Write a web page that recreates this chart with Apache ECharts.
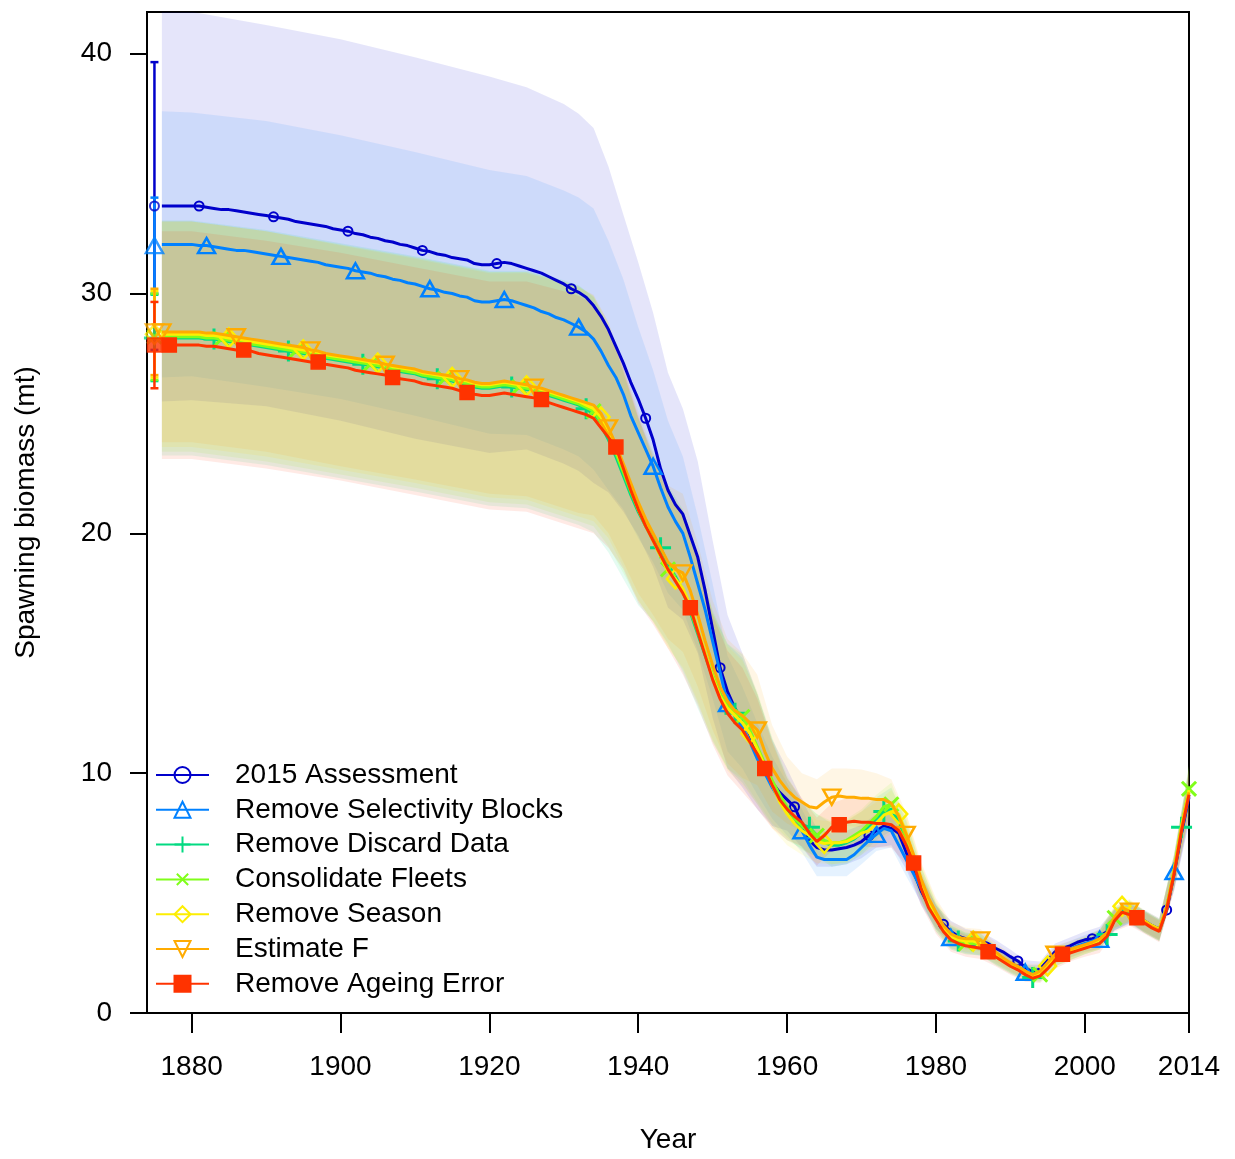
<!DOCTYPE html>
<html>
<head>
<meta charset="utf-8">
<title>Spawning biomass – model comparison</title>
<script src="https://cdn.jsdelivr.net/npm/echarts@6/dist/echarts.min.js"></script>
<style>
  html, body { margin: 0; padding: 0; background: #fff; }
  #chart { width: 1235px; height: 1159px; }
</style>
</head>
<body>
<div id="chart"></div>
<script>
// ---- data -------------------------------------------------------------
const START_YEAR = 1876;          // first year of the annual series
const VIRGIN_YEAR = 1875;         // unfished (virgin) estimate plotted here

const SERIES_NAMES = [
  '2015 Assessment',
  'Remove Selectivity Blocks',
  'Remove Discard Data',
  'Consolidate Fleets',
  'Remove Season',
  'Estimate F',
  'Remove Ageing Error'
];

// Spawning biomass (mt), one value per year from 1876 to 2014
const ASSESS_2015 = [
  33.65, 33.65, 33.65, 33.65,
  33.65, 33.65, 33.6, 33.55, 33.5, 33.5, 33.45, 33.4, 33.35, 33.3,
  33.25, 33.2, 33.15, 33.1, 33.0, 32.95, 32.9, 32.85, 32.8, 32.7,
  32.65, 32.6, 32.5, 32.45, 32.35, 32.3, 32.2, 32.15, 32.05, 32.0,
  31.9, 31.8, 31.75, 31.65, 31.6, 31.5, 31.45, 31.4, 31.25, 31.2,
  31.2, 31.25, 31.3, 31.25, 31.15, 31.05, 30.95, 30.85, 30.7, 30.55,
  30.4, 30.2, 30.05, 29.85, 29.5, 29.05, 28.5, 27.8, 27.1, 26.3,
  25.6, 24.8, 23.9, 22.7, 21.8, 21.2, 20.8, 19.9, 19.0, 17.6,
  16.0, 14.4, 13.4, 12.7, 12.2, 11.6, 10.9, 10.2, 9.6, 9.2,
  8.9, 8.6, 7.9, 7.2, 6.9, 6.8, 6.8, 6.85, 6.9, 7.0,
  7.15, 7.4, 7.6, 7.8, 7.7, 7.5, 6.7, 5.9, 5.1, 4.5,
  4.0, 3.7, 3.4, 3.2, 3.1, 3.05, 3.0, 2.9, 2.7, 2.55,
  2.35, 2.17, 1.9, 1.7, 1.85, 2.2, 2.55, 2.7, 2.8, 2.95,
  3.05, 3.1, 3.2, 3.4, 3.9, 4.3, 4.2, 4.0, 3.85, 3.65,
  3.5, 4.3, 5.8, 7.5, 9.0
];
const NO_SEL_BLOCKS = [
  32.05, 32.05, 32.05, 32.05,
  32.05, 32.0, 32.0, 31.95, 31.9, 31.85, 31.8, 31.8, 31.75, 31.7,
  31.65, 31.6, 31.55, 31.5, 31.45, 31.4, 31.35, 31.3, 31.2, 31.15,
  31.1, 31.05, 30.95, 30.9, 30.85, 30.75, 30.7, 30.6, 30.55, 30.45,
  30.4, 30.3, 30.2, 30.15, 30.05, 30.0, 29.9, 29.85, 29.7, 29.65,
  29.65, 29.7, 29.75, 29.7, 29.6, 29.5, 29.4, 29.25, 29.15, 29.0,
  28.9, 28.75, 28.6, 28.4, 28.1, 27.6, 27.0, 26.5, 25.8, 24.9,
  24.2, 23.5, 22.8, 21.9, 21.1, 20.5, 20.0, 19.0, 17.9, 16.8,
  15.5, 14.2, 12.9, 12.4, 11.9, 11.3, 10.6, 10.0, 9.4, 8.9,
  8.5, 8.1, 7.6, 7.0, 6.5, 6.4, 6.4, 6.4, 6.4, 6.6,
  6.9, 7.2, 7.45, 7.7, 7.6, 7.0, 6.4, 5.8, 5.2, 4.5,
  4.0, 3.5, 3.15, 3.0, 2.9, 2.85, 2.8, 2.6, 2.4, 2.2,
  2.0, 1.85, 1.7, 1.55, 1.7, 2.05, 2.4, 2.55, 2.65, 2.8,
  2.9, 3.0, 3.07, 3.3, 3.9, 4.3, 4.15, 3.95, 3.8, 3.6,
  3.45, 4.3, 5.9, 7.6, 9.1
];
const NO_DISCARD = [
  28.15, 28.15, 28.15, 28.15,
  28.15, 28.15, 28.1, 28.1, 28.05, 28.0, 27.95, 27.9, 27.85, 27.8,
  27.75, 27.7, 27.65, 27.6, 27.55, 27.5, 27.45, 27.4, 27.3, 27.25,
  27.2, 27.15, 27.1, 27.05, 27.0, 26.95, 26.9, 26.8, 26.75, 26.7,
  26.65, 26.55, 26.5, 26.45, 26.4, 26.35, 26.25, 26.2, 26.1, 26.05,
  26.05, 26.1, 26.15, 26.1, 26.05, 26.0, 25.95, 25.85, 25.75, 25.65,
  25.55, 25.45, 25.35, 25.2, 24.95, 24.5, 23.9, 23.2, 22.4, 21.6,
  20.9, 20.3, 19.85, 19.4, 18.7, 18.2, 17.6, 16.7, 15.8, 14.9,
  14.0, 13.3, 12.8, 12.5, 12.2, 11.7, 11.0, 10.3, 9.6, 9.0,
  8.5, 8.1, 7.85, 7.75, 7.4, 7.1, 7.0, 7.0, 7.1, 7.25,
  7.5, 7.8, 8.1, 8.4, 8.5, 8.0, 7.2, 6.3, 5.4, 4.6,
  4.0, 3.5, 3.15, 3.0, 2.9, 2.9, 2.85, 2.6, 2.4, 2.2,
  2.0, 1.85, 1.65, 1.48, 1.6, 1.95, 2.3, 2.45, 2.55, 2.7,
  2.8, 2.95, 3.05, 3.27, 3.9, 4.35, 4.2, 3.95, 3.8, 3.6,
  3.45, 4.4, 5.9, 7.75, 9.3
];
const ONE_FLEET = [
  28.2, 28.2, 28.2, 28.2,
  28.2, 28.2, 28.15, 28.15, 28.1, 28.05, 28.0, 27.95, 27.9, 27.85,
  27.8, 27.75, 27.7, 27.65, 27.6, 27.55, 27.5, 27.45, 27.35, 27.3,
  27.25, 27.2, 27.15, 27.1, 27.05, 27.0, 26.95, 26.85, 26.8, 26.75,
  26.7, 26.6, 26.55, 26.5, 26.45, 26.4, 26.3, 26.25, 26.15, 26.1,
  26.1, 26.15, 26.2, 26.15, 26.1, 26.05, 26.0, 25.9, 25.8, 25.7,
  25.6, 25.5, 25.4, 25.25, 25.1, 24.65, 24.05, 23.35, 22.55, 21.75,
  21.0, 20.3, 19.7, 19.05, 18.5, 18.1, 17.6, 16.8, 15.9, 15.0,
  14.1, 13.3, 12.8, 12.5, 12.35, 11.8, 11.1, 10.4, 9.7, 9.1,
  8.6, 8.1, 7.8, 7.5, 7.4, 7.2, 7.1, 7.1, 7.2, 7.4,
  7.6, 7.9, 8.2, 8.6, 8.7, 8.2, 7.3, 6.4, 5.4, 4.6,
  4.0, 3.5, 3.15, 3.0, 2.9, 2.9, 2.85, 2.65, 2.4, 2.2,
  2.0, 1.85, 1.65, 1.5, 1.6, 1.95, 2.3, 2.45, 2.55, 2.7,
  2.8, 2.9, 3.05, 3.3, 3.97, 4.4, 4.25, 4.0, 3.8, 3.6,
  3.45, 4.4, 5.95, 7.8, 9.35
];
const NO_SEASON = [
  28.3, 28.3, 28.3, 28.3,
  28.3, 28.3, 28.25, 28.25, 28.2, 28.15, 28.1, 28.05, 28.0, 27.95,
  27.9, 27.85, 27.8, 27.75, 27.7, 27.65, 27.6, 27.55, 27.45, 27.4,
  27.35, 27.3, 27.25, 27.2, 27.15, 27.1, 27.05, 26.95, 26.9, 26.85,
  26.8, 26.7, 26.65, 26.6, 26.55, 26.5, 26.4, 26.35, 26.25, 26.2,
  26.2, 26.25, 26.3, 26.25, 26.2, 26.15, 26.1, 26.0, 25.9, 25.8,
  25.7, 25.6, 25.5, 25.35, 25.2, 24.85, 24.3, 23.5, 22.7, 21.85,
  21.0, 20.35, 19.7, 19.05, 18.4, 18.1, 17.7, 17.0, 16.0, 15.0,
  14.0, 13.2, 12.7, 12.4, 12.1, 11.65, 11.0, 10.3, 9.5, 8.8,
  8.3, 7.9, 7.6, 7.4, 7.15, 7.07, 7.1, 7.1, 7.15, 7.3,
  7.5, 7.6, 7.9, 8.25, 8.4, 8.3, 7.5, 6.5, 5.5, 4.7,
  4.1, 3.55, 3.2, 3.05, 3.0, 3.0, 2.9, 2.7, 2.45, 2.25,
  2.05, 1.9, 1.7, 1.55, 1.65, 1.96, 2.3, 2.45, 2.55, 2.7,
  2.8, 2.9, 3.05, 3.3, 4.0, 4.45, 4.3, 4.05, 3.85, 3.65,
  3.5, 4.4, 5.95, 7.8, 9.3
];
const EST_F = [
  28.4, 28.4, 28.4, 28.4,
  28.4, 28.4, 28.35, 28.35, 28.3, 28.25, 28.2, 28.15, 28.1, 28.05,
  28.0, 27.95, 27.9, 27.85, 27.8, 27.75, 27.65, 27.6, 27.5, 27.45,
  27.4, 27.35, 27.3, 27.25, 27.2, 27.15, 27.05, 27.0, 26.95, 26.9,
  26.85, 26.75, 26.7, 26.65, 26.6, 26.55, 26.45, 26.4, 26.3, 26.25,
  26.25, 26.3, 26.35, 26.3, 26.25, 26.2, 26.1, 26.05, 25.95, 25.85,
  25.75, 25.65, 25.55, 25.45, 25.35, 25.0, 24.4, 23.7, 22.9, 22.1,
  21.3, 20.6, 20.0, 19.4, 18.8, 18.5, 18.35, 17.6, 16.6, 15.5,
  14.5, 13.6, 13.0, 12.6, 12.4, 12.1, 11.8, 10.9, 10.2, 9.7,
  9.3, 9.0, 8.8, 8.6, 8.55, 8.8, 9.0, 9.05, 9.0, 9.0,
  8.95, 8.95, 8.9, 8.9, 8.75, 8.2, 7.45, 6.6, 5.6, 4.8,
  4.2, 3.65, 3.3, 3.15, 3.1, 3.1, 3.05, 2.8, 2.55, 2.3,
  2.1, 1.95, 1.75, 1.6, 1.75, 2.1, 2.45, 2.55, 2.65, 2.75,
  2.85, 2.95, 3.1, 3.35, 4.0, 4.4, 4.25, 4.0, 3.8, 3.6,
  3.45, 4.4, 5.9, 7.7, 9.2
];
const NO_AGE_ERR = [
  27.85, 27.85, 27.85, 27.85,
  27.85, 27.85, 27.8, 27.8, 27.75, 27.7, 27.65, 27.65, 27.6, 27.5,
  27.45, 27.4, 27.35, 27.3, 27.25, 27.2, 27.15, 27.15, 27.05, 27.0,
  26.95, 26.9, 26.8, 26.75, 26.7, 26.65, 26.6, 26.5, 26.45, 26.4,
  26.35, 26.25, 26.2, 26.15, 26.1, 26.05, 25.95, 25.87, 25.8, 25.75,
  25.75, 25.8, 25.85, 25.8, 25.75, 25.7, 25.65, 25.58, 25.45, 25.35,
  25.25, 25.15, 25.05, 24.95, 24.8, 24.4, 24.0, 23.6, 22.7, 21.8,
  21.0, 20.3, 19.7, 19.1, 18.5, 18.0, 17.5, 16.9, 15.9, 14.9,
  13.9, 13.1, 12.5, 12.1, 11.8, 11.3, 10.8, 10.2, 9.5, 8.9,
  8.5, 8.2, 7.95, 7.5, 7.15, 7.4, 7.75, 7.85, 7.95, 8.0,
  7.95, 7.95, 7.9, 7.9, 7.85, 7.6, 7.0, 6.25, 5.2, 4.4,
  3.9, 3.4, 3.05, 2.9, 2.8, 2.75, 2.7, 2.55, 2.35, 2.15,
  1.95, 1.8, 1.6, 1.45, 1.55, 1.85, 2.2, 2.45, 2.5, 2.6,
  2.7, 2.8, 2.9, 3.2, 3.85, 4.2, 4.1, 3.97, 3.75, 3.55,
  3.4, 4.3, 5.8, 7.6, 9.1
];

// Unfished spawning biomass with its 95% interval
const VIRGIN    = [33.65, 32.0, 28.15, 28.2, 28.3, 28.4, 27.85];
const VIRGIN_LO = [27.65, 30.0, 26.35, 26.4, 26.5, 26.6, 26.05];
const VIRGIN_HI = [39.65, 34.0, 29.95, 30.0, 30.1, 30.2, 29.65];

// Half-width of the 95% interval around each model, at these years
const BAND_YEARS = [1876, 1880, 1890, 1900, 1910, 1920, 1925, 1930,
  1932, 1934, 1936, 1938, 1940, 1942, 1944, 1946, 1948, 1950, 1952, 1954,
  1956, 1958, 1960, 1962, 1964, 1966, 1968, 1970, 1972, 1974, 1976, 1978,
  1980, 1982, 1984, 1986, 1988, 1990, 1992, 1994, 1996, 1998, 2000, 2002,
  2004, 2006, 2008, 2010, 2012, 2014];
const CI_ASSESS_2015 = [8.15, 8.1, 7.95, 7.95, 7.95, 7.85, 7.55, 7.5,
  7.45, 7.4, 6.8, 6.2, 5.7, 5.3, 4.9, 4.4, 4.0, 3.7, 3.2, 2.8,
  2.4, 1.8, 1.3, 1.0, 0.8, 0.7, 0.7, 0.7, 0.7, 0.7, 0.7, 0.6,
  0.5, 0.45, 0.4, 0.4, 0.35, 0.3, 0.3, 0.3, 0.35, 0.35, 0.35, 0.4,
  0.45, 0.45, 0.45, 0.45, 0.7, 1.1];
const CI_NO_SEL_BLOCKS = [5.55, 5.5, 5.55, 5.5, 5.5, 5.5, 5.4, 5.4,
  5.4, 5.45, 5.2, 4.8, 4.4, 4.0, 3.6, 3.2, 2.8, 2.4, 2.0, 1.7,
  1.5, 1.3, 1.1, 0.9, 0.8, 0.7, 0.7, 0.7, 0.7, 0.7, 0.7, 0.6,
  0.5, 0.45, 0.4, 0.4, 0.35, 0.3, 0.3, 0.3, 0.35, 0.35, 0.35, 0.4,
  0.45, 0.45, 0.45, 0.45, 0.7, 1.1];
const CI_NO_DISCARD = [4.9, 4.9, 4.9, 4.9, 4.9, 4.9, 4.95, 5.0,
  5.0, 4.9, 4.7, 4.3, 3.9, 3.5, 3.3, 3.4, 3.1, 2.7, 2.6, 2.6,
  2.3, 1.8, 1.3, 1.0, 0.9, 0.9, 0.9, 0.9, 0.9, 0.9, 0.8, 0.7,
  0.6, 0.5, 0.45, 0.45, 0.4, 0.35, 0.3, 0.3, 0.35, 0.35, 0.35, 0.4,
  0.45, 0.45, 0.45, 0.45, 0.7, 1.0];
const CI_ONE_FLEET = [4.8, 4.8, 4.8, 4.8, 4.8, 4.8, 4.85, 4.9,
  4.9, 4.8, 4.6, 4.2, 3.8, 3.4, 3.2, 3.3, 3.0, 2.7, 2.6, 2.6,
  2.3, 1.8, 1.3, 1.0, 0.9, 0.9, 0.9, 0.9, 0.9, 0.9, 0.8, 0.7,
  0.6, 0.5, 0.45, 0.45, 0.4, 0.35, 0.3, 0.3, 0.35, 0.35, 0.35, 0.4,
  0.45, 0.45, 0.45, 0.45, 0.7, 1.0];
const CI_NO_SEASON = [4.7, 4.7, 4.7, 4.7, 4.7, 4.7, 4.75, 4.8,
  4.8, 4.7, 4.5, 4.1, 3.8, 3.4, 3.2, 3.3, 3.0, 2.7, 2.6, 2.6,
  2.3, 1.8, 1.3, 1.0, 0.9, 0.9, 0.9, 0.9, 0.9, 0.9, 0.8, 0.7,
  0.6, 0.5, 0.45, 0.45, 0.4, 0.35, 0.3, 0.3, 0.35, 0.35, 0.35, 0.4,
  0.45, 0.45, 0.45, 0.45, 0.7, 1.0];
const CI_EST_F = [4.6, 4.6, 4.6, 4.6, 4.6, 4.6, 4.65, 4.7,
  4.7, 4.6, 4.4, 4.1, 3.8, 3.4, 3.2, 3.3, 3.0, 2.7, 2.6, 2.6,
  2.3, 1.8, 1.4, 1.2, 1.2, 1.2, 1.2, 1.2, 1.1, 1.0, 0.9, 0.7,
  0.6, 0.5, 0.45, 0.45, 0.4, 0.35, 0.3, 0.3, 0.35, 0.35, 0.35, 0.4,
  0.45, 0.45, 0.45, 0.45, 0.7, 1.0];
const CI_NO_AGE_ERR = [4.75, 4.75, 4.75, 4.75, 4.75, 4.75, 4.8, 4.85,
  4.85, 4.8, 4.6, 4.2, 3.9, 3.5, 3.3, 3.4, 3.1, 2.7, 2.6, 2.6,
  2.3, 1.8, 1.3, 1.0, 1.0, 1.0, 1.0, 1.0, 1.0, 0.95, 0.8, 0.7,
  0.6, 0.5, 0.45, 0.45, 0.4, 0.35, 0.3, 0.3, 0.35, 0.35, 0.35, 0.4,
  0.45, 0.45, 0.45, 0.45, 0.7, 1.0];

const X_TICKS = [1880, 1900, 1920, 1940, 1960, 1980, 2000, 2014];
const Y_TICKS = [0, 10, 20, 30, 40];

// ---- styling ----------------------------------------------------------
const LINES = [ASSESS_2015, NO_SEL_BLOCKS, NO_DISCARD, ONE_FLEET, NO_SEASON, EST_F, NO_AGE_ERR];
const CIS = [CI_ASSESS_2015, CI_NO_SEL_BLOCKS, CI_NO_DISCARD, CI_ONE_FLEET, CI_NO_SEASON, CI_EST_F, CI_NO_AGE_ERR];
const COLORS = ['#0000CB', '#0081FF', '#02DA81', '#80FE1A', '#FDEE02', '#FFAB00', '#FF3300'];
const FONT = '"Liberation Sans", Arial, Helvetica, sans-serif';
const PLUS = 'path://M5,0L5,10M0,5L10,5';
// marker look for each model; markers are placed every 10 years, staggered by one year per model
const MARKERS = [
  { symbol: 'circle',   size: 9,  rotate: 0,   fill: 'rgba(0,0,0,0)', bw: 2 },
  { symbol: 'triangle', size: [17, 15], rotate: 0, fill: 'rgba(0,0,0,0)', bw: 2.5 },
  { symbol: PLUS,       size: 21, rotate: 0,   fill: 'rgba(0,0,0,0)', bw: 3 },
  { symbol: PLUS,       size: 20, rotate: 45,  fill: 'rgba(0,0,0,0)', bw: 3 },
  { symbol: 'diamond',  size: [17, 19], rotate: 0, fill: 'rgba(0,0,0,0)', bw: 2.5 },
  { symbol: 'triangle', size: [17, 15], rotate: 180, fill: 'rgba(0,0,0,0)', bw: 2.5 },
  { symbol: 'rect',     size: 14, rotate: 0,   fill: '#FF3300', bw: 1.5 }
];

function withAlpha(hex, a) {
  const n = parseInt(hex.slice(1), 16);
  return 'rgba(' + ((n >> 16) & 255) + ',' + ((n >> 8) & 255) + ',' + (n & 255) + ',' + a + ')';
}

// ---- series -----------------------------------------------------------
const series = [];

// shaded 95% intervals
LINES.forEach(function (vals, k) {
  series.push({
    type: 'custom',
    silent: true,
    z: 1,
    data: [[k]],
    encode: { x: -1, y: -1 },
    renderItem: function (params, api) {
      const ci = CIS[k];
      const upper = [], lower = [];
      BAND_YEARS.forEach(function (yr, j) {
        const v = vals[yr - START_YEAR];
        upper.push(api.coord([yr, v + ci[j]]));
        lower.unshift(api.coord([yr, v - ci[j]]));
      });
      const cs = params.coordSys;
      return {
        type: 'group',
        clipPath: { type: 'rect', shape: { x: cs.x, y: cs.y, width: cs.width, height: cs.height } },
        children: [{
          type: 'polygon',
          shape: { points: upper.concat(lower) },
          style: { fill: withAlpha(COLORS[k], 0.1), stroke: null }
        }]
      };
    }
  });
});

// unfished estimate with interval
series.push({
  type: 'custom',
  silent: true,
  z: 3,
  data: VIRGIN.map(function (v, i) { return [VIRGIN_YEAR, VIRGIN_LO[i], VIRGIN_HI[i], i]; }),
  encode: { x: 0, y: [1, 2] },
  renderItem: function (params, api) {
    const i = api.value(3);
    const lo = api.coord([api.value(0), api.value(1)]);
    const hi = api.coord([api.value(0), api.value(2)]);
    const st = { stroke: COLORS[i], lineWidth: 2.5 };
    const c = 4;
    return {
      type: 'group',
      children: [
        { type: 'line', shape: { x1: lo[0], y1: lo[1], x2: hi[0], y2: hi[1] }, style: st },
        { type: 'line', shape: { x1: lo[0] - c, y1: lo[1], x2: lo[0] + c, y2: lo[1] }, style: st },
        { type: 'line', shape: { x1: hi[0] - c, y1: hi[1], x2: hi[0] + c, y2: hi[1] }, style: st }
      ]
    };
  }
});

LINES.forEach(function (vals, k) {
  const m = MARKERS[k];
  const itemStyle = { color: m.fill, borderColor: COLORS[k], borderWidth: m.bw };
  // time series line; symbol shown only on the staggered marker years
  series.push({
    name: SERIES_NAMES[k],
    type: 'line',
    z: 4 + k,
    symbol: m.symbol,
    symbolSize: m.size,
    symbolRotate: m.rotate,
    symbolKeepAspect: true,
    showSymbol: true,
    showAllSymbol: true,
    lineStyle: { color: COLORS[k], width: 3 },
    itemStyle: itemStyle,
    emphasis: { disabled: true },
    data: vals.map(function (v, i) {
      const yr = START_YEAR + i;
      const onMarker = ((yr - 1880) % 10) === k + 1 || ((yr - 1880) % 10) === k - 9;
      return onMarker ? { value: [yr, v] } : { value: [yr, v], symbol: 'none' };
    })
  });
  // unfished point
  series.push({
    type: 'scatter',
    silent: true,
    z: 4 + k,
    symbol: m.symbol,
    symbolSize: m.size,
    symbolRotate: m.rotate,
    symbolKeepAspect: true,
    itemStyle: itemStyle,
    data: [[VIRGIN_YEAR, VIRGIN[k]]]
  });
});

// ---- chart ------------------------------------------------------------
const chart = echarts.init(document.getElementById('chart'), null, { renderer: 'canvas' });
chart.setOption({
  animation: false,
  backgroundColor: '#ffffff',
  textStyle: { fontFamily: FONT },
  grid: {
    left: 147, right: 46, top: 12, bottom: 141,
    show: true, borderColor: '#000', borderWidth: 2, backgroundColor: 'transparent',
    containLabel: false
  },
  legend: {
    orient: 'vertical',
    left: 155,
    top: 761,
    padding: 0,
    itemWidth: 53,
    itemHeight: 20,
    itemGap: 6.8,
    selectedMode: false,
    data: SERIES_NAMES,
    textStyle: { fontSize: 28, color: '#000', fontFamily: FONT, lineHeight: 28, padding: [0, 0, 0, 21] }
  },
  xAxis: {
    type: 'value',
    min: 1874,
    max: 2014,
    name: 'Year',
    nameLocation: 'middle',
    nameGap: 113,
    nameTextStyle: { fontSize: 28, color: '#000', fontFamily: FONT },
    axisLine: { show: true, onZero: false, lineStyle: { color: '#000', width: 2 } },
    axisTick: { show: true, inside: false, length: 20, customValues: X_TICKS, lineStyle: { color: '#000', width: 2 } },
    axisLabel: {
      customValues: X_TICKS, margin: 40, fontSize: 28, color: '#000', fontFamily: FONT,
      formatter: function (v) { return String(v); }
    },
    splitLine: { show: false }
  },
  yAxis: {
    type: 'value',
    min: 0,
    max: 41.74,
    name: 'Spawning biomass (mt)',
    nameLocation: 'middle',
    nameRotate: 90,
    nameGap: 107,
    nameTextStyle: { fontSize: 28, color: '#000', fontFamily: FONT },
    axisLine: { show: true, onZero: false, lineStyle: { color: '#000', width: 2 } },
    axisTick: { show: true, inside: false, length: 17, customValues: Y_TICKS, lineStyle: { color: '#000', width: 2 } },
    axisLabel: {
      customValues: Y_TICKS, margin: 35, fontSize: 28, color: '#000', fontFamily: FONT,
      formatter: function (v) { return String(v); }
    },
    splitLine: { show: false }
  },
  series: series
});
</script>
</body>
</html>
